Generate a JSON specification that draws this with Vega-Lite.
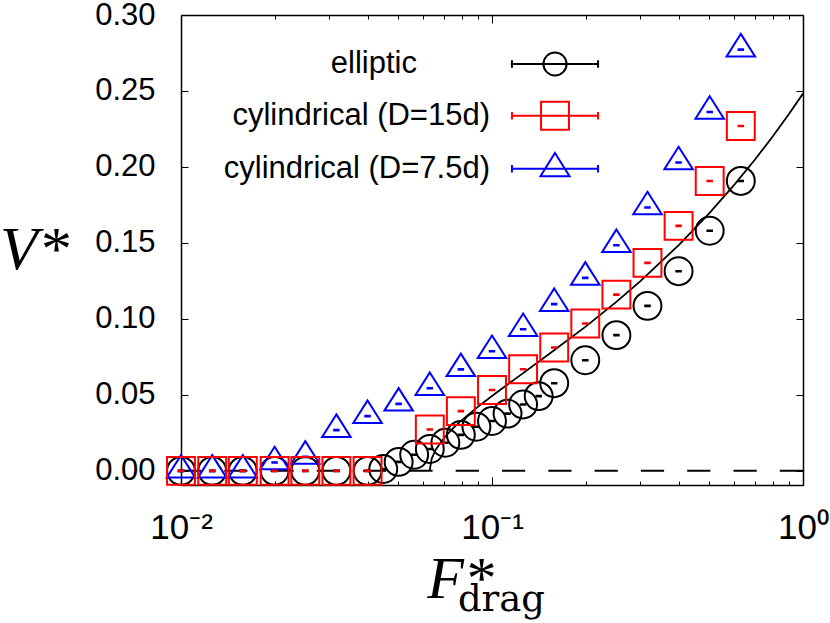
{
  "$schema": "https://vega.github.io/schema/vega-lite/v6.json",
  "width": 622,
  "height": 470,
  "autosize": {"type": "none"},
  "padding": {"left": 181, "top": 15, "right": 27, "bottom": 138},
  "background": "#ffffff",
  "config": {
    "view": {"stroke": null},
    "font": "Liberation Sans",
    "axis": {
      "grid": false,
      "domain": true,
      "domainColor": "#000000",
      "domainWidth": 1.5,
      "tickColor": "#000000",
      "tickWidth": 1,
      "labelColor": "#000000",
      "titleColor": "#000000",
      "labelFlush": false,
      "labelOverlap": false,
      "labelBound": false,
      "zindex": 1
    },
    "legend": {
      "orient": "none", "title": null, "padding": 0,
      "labelFont": "Liberation Sans", "labelFontSize": 31, "labelColor": "#000000",
      "labelAlign": "right", "labelBaseline": "middle", "labelLimit": 600,
      "symbolSize": 900, "symbolStrokeWidth": 2, "rowPadding": 15
    }
  },
  "datasets": {
    "pts": [
      {"F": 0.01, "V": 0, "series": "elliptic"},
      {"F": 0.0126, "V": 0, "series": "elliptic"},
      {"F": 0.0158, "V": 0, "series": "elliptic"},
      {"F": 0.02, "V": 0, "series": "elliptic"},
      {"F": 0.0251, "V": 0, "series": "elliptic"},
      {"F": 0.0316, "V": 0, "series": "elliptic"},
      {"F": 0.0398, "V": 0, "series": "elliptic"},
      {"F": 0.0447, "V": 0.0012, "series": "elliptic"},
      {"F": 0.0501, "V": 0.0059, "series": "elliptic"},
      {"F": 0.0562, "V": 0.0106, "series": "elliptic"},
      {"F": 0.0631, "V": 0.0144, "series": "elliptic"},
      {"F": 0.0708, "V": 0.0185, "series": "elliptic"},
      {"F": 0.0794, "V": 0.0237, "series": "elliptic"},
      {"F": 0.0891, "V": 0.029, "series": "elliptic"},
      {"F": 0.1, "V": 0.0328, "series": "elliptic"},
      {"F": 0.1122, "V": 0.0377, "series": "elliptic"},
      {"F": 0.1259, "V": 0.0437, "series": "elliptic"},
      {"F": 0.1413, "V": 0.0492, "series": "elliptic"},
      {"F": 0.1585, "V": 0.0577, "series": "elliptic"},
      {"F": 0.1995, "V": 0.0728, "series": "elliptic"},
      {"F": 0.2512, "V": 0.0893, "series": "elliptic"},
      {"F": 0.3162, "V": 0.1086, "series": "elliptic"},
      {"F": 0.3981, "V": 0.1314, "series": "elliptic"},
      {"F": 0.5012, "V": 0.158, "series": "elliptic"},
      {"F": 0.631, "V": 0.1908, "series": "elliptic"},
      {"F": 0.01, "V": 0, "series": "cylindrical (D=15d)"},
      {"F": 0.0126, "V": 0, "series": "cylindrical (D=15d)"},
      {"F": 0.0158, "V": 0, "series": "cylindrical (D=15d)"},
      {"F": 0.02, "V": 0, "series": "cylindrical (D=15d)"},
      {"F": 0.0251, "V": 0, "series": "cylindrical (D=15d)"},
      {"F": 0.0316, "V": 0, "series": "cylindrical (D=15d)"},
      {"F": 0.0398, "V": 0, "series": "cylindrical (D=15d)"},
      {"F": 0.0631, "V": 0.0272, "series": "cylindrical (D=15d)"},
      {"F": 0.0794, "V": 0.0393, "series": "cylindrical (D=15d)"},
      {"F": 0.1, "V": 0.0532, "series": "cylindrical (D=15d)"},
      {"F": 0.1259, "V": 0.0669, "series": "cylindrical (D=15d)"},
      {"F": 0.1585, "V": 0.0812, "series": "cylindrical (D=15d)"},
      {"F": 0.1995, "V": 0.097, "series": "cylindrical (D=15d)"},
      {"F": 0.2512, "V": 0.116, "series": "cylindrical (D=15d)"},
      {"F": 0.3162, "V": 0.1369, "series": "cylindrical (D=15d)"},
      {"F": 0.3981, "V": 0.1612, "series": "cylindrical (D=15d)"},
      {"F": 0.5012, "V": 0.1908, "series": "cylindrical (D=15d)"},
      {"F": 0.631, "V": 0.227, "series": "cylindrical (D=15d)"},
      {"F": 0.01, "V": 0, "series": "cylindrical (D=7.5d)"},
      {"F": 0.0126, "V": 0, "series": "cylindrical (D=7.5d)"},
      {"F": 0.0158, "V": 0, "series": "cylindrical (D=7.5d)"},
      {"F": 0.02, "V": 0.0055, "series": "cylindrical (D=7.5d)"},
      {"F": 0.0251, "V": 0.0092, "series": "cylindrical (D=7.5d)"},
      {"F": 0.0316, "V": 0.0268, "series": "cylindrical (D=7.5d)"},
      {"F": 0.0398, "V": 0.036, "series": "cylindrical (D=7.5d)"},
      {"F": 0.0501, "V": 0.0441, "series": "cylindrical (D=7.5d)"},
      {"F": 0.0631, "V": 0.0544, "series": "cylindrical (D=7.5d)"},
      {"F": 0.0794, "V": 0.0668, "series": "cylindrical (D=7.5d)"},
      {"F": 0.1, "V": 0.0787, "series": "cylindrical (D=7.5d)"},
      {"F": 0.1259, "V": 0.0932, "series": "cylindrical (D=7.5d)"},
      {"F": 0.1585, "V": 0.1097, "series": "cylindrical (D=7.5d)"},
      {"F": 0.1995, "V": 0.127, "series": "cylindrical (D=7.5d)"},
      {"F": 0.2512, "V": 0.1485, "series": "cylindrical (D=7.5d)"},
      {"F": 0.3162, "V": 0.1733, "series": "cylindrical (D=7.5d)"},
      {"F": 0.3981, "V": 0.2029, "series": "cylindrical (D=7.5d)"},
      {"F": 0.5012, "V": 0.2362, "series": "cylindrical (D=7.5d)"},
      {"F": 0.631, "V": 0.2772, "series": "cylindrical (D=7.5d)"}
    ],
    "fit": [
      {"F": 0.063, "V": 0},
      {"F": 0.064, "V": 0.0081},
      {"F": 0.066, "V": 0.0141},
      {"F": 0.07, "V": 0.0215},
      {"F": 0.075, "V": 0.0281},
      {"F": 0.08, "V": 0.0334},
      {"F": 0.09, "V": 0.0421},
      {"F": 0.1, "V": 0.0493},
      {"F": 0.12, "V": 0.0612},
      {"F": 0.15, "V": 0.0757},
      {"F": 0.2, "V": 0.0949},
      {"F": 0.25, "V": 0.1109},
      {"F": 0.3, "V": 0.1249},
      {"F": 0.4, "V": 0.1489},
      {"F": 0.5, "V": 0.1696},
      {"F": 0.6, "V": 0.188},
      {"F": 0.7, "V": 0.2047},
      {"F": 0.8, "V": 0.2202},
      {"F": 0.9, "V": 0.2347},
      {"F": 1.0, "V": 0.2483}
    ],
    "zero": [{"V": 0}]
  },
  "layer": [
    {
      "data": {"name": "zero"},
      "mark": {"type": "rule", "color": "#000000", "strokeWidth": 2, "strokeDash": [23.2, 23.1]},
      "encoding": {
        "y": {"field": "V", "type": "quantitative", "axis": null, "scale": {"domain": [-0.0093, 0.3], "nice": false, "zero": false}}
      }
    },
    {
      "data": {"name": "fit"},
      "mark": {"type": "line", "color": "#000000", "strokeWidth": 1.8, "clip": true},
      "encoding": {
        "x": {
          "field": "F", "type": "quantitative",
          "scale": {"type": "log", "domain": [0.01, 1], "nice": false},
          "axis": {
            "orient": "bottom",
            "values": [0.01,0.02,0.03,0.04,0.05,0.06,0.07,0.08,0.09,0.1,0.2,0.3,0.4,0.5,0.6,0.7,0.8,0.9,1],
            "tickSize": {"condition": {"test": "datum.value === 0.01 || datum.value === 0.1 || datum.value === 1", "value": -8}, "value": -4},
            "labelExpr": "datum.value === 0.01 ? '10⁻²' : datum.value === 0.1 ? '10⁻¹' : datum.value === 1 ? '10⁰' : ''",
            "labelFont": "Liberation Sans",
            "labelFontSize": 35,
            "labelBaseline": "alphabetic",
            "labelPadding": 61,
            "title": "F*",
            "titleFont": "Liberation Serif",
            "titleFontStyle": "italic",
            "titleFontWeight": "normal",
            "titleFontSize": 60,
            "titleAngle": 0,
            "titleAlign": "center",
            "titleBaseline": "alphabetic",
            "titleX": 279,
            "titleY": 112
          }
        },
        "y": {
          "field": "V", "type": "quantitative",
          "scale": {"domain": [-0.0093, 0.3], "nice": false, "zero": false},
          "axis": {
            "orient": "left",
            "values": [0, 0.05, 0.1, 0.15, 0.2, 0.25, 0.3],
            "format": ".2f",
            "tickSize": -7,
            "labelFont": "Liberation Sans",
            "labelFontSize": 31,
            "labelPadding": 33,
            "title": "V*",
            "titleFont": "Liberation Serif",
            "titleFontStyle": "italic",
            "titleFontWeight": "normal",
            "titleFontSize": 62,
            "titleAngle": 0,
            "titleAlign": "center",
            "titleBaseline": "alphabetic",
            "titleX": -147,
            "titleY": 253
          }
        }
      }
    },
    {
      "data": {"name": "pts"},
      "mark": {"type": "point", "filled": false, "strokeWidth": 2, "size": 900, "opacity": 1},
      "encoding": {
        "x": {
          "field": "F", "type": "quantitative",
          "scale": {"type": "log", "domain": [0.01, 1], "nice": false},
          "axis": {
            "orient": "top",
            "values": [0.01,0.02,0.03,0.04,0.05,0.06,0.07,0.08,0.09,0.1,0.2,0.3,0.4,0.5,0.6,0.7,0.8,0.9,1],
            "tickSize": {"condition": {"test": "datum.value === 0.01 || datum.value === 0.1 || datum.value === 1", "value": -8}, "value": -4},
            "labels": false,
            "title": "drag",
            "titleFont": "DejaVu Serif",
            "titleFontStyle": "normal",
            "titleFontWeight": "normal",
            "titleFontSize": 37,
            "titleAngle": 0,
            "titleAlign": "center",
            "titleBaseline": "alphabetic",
            "titleX": 320,
            "titleY": 595
          }
        },
        "y": {
          "field": "V", "type": "quantitative",
          "scale": {"domain": [-0.0093, 0.3], "nice": false, "zero": false},
          "axis": {
            "orient": "right",
            "values": [0, 0.05, 0.1, 0.15, 0.2, 0.25, 0.3],
            "tickSize": -7,
            "labels": false,
            "title": null
          }
        },
        "shape": {
          "field": "series", "type": "nominal",
          "scale": {
            "domain": ["elliptic", "cylindrical (D=15d)", "cylindrical (D=7.5d)"],
            "range": [
              "M0.93,0A0.93,0.93,0,1,1,-0.93,0A0.93,0.93,0,1,1,0.93,0ZM-0.15,-0.02H0.15V0.02H-0.15Z",
              "M-0.93,-0.93H0.93V0.93H-0.93ZM-0.15,-0.02H0.15V0.02H-0.15Z",
              "M0,-1.05L0.95,0.45H-0.95ZM-0.15,-0.02H0.15V0.02H-0.15Z"
            ]
          },
          "legend": null
        },
        "color": {
          "field": "series", "type": "nominal",
          "scale": {
            "domain": ["elliptic", "cylindrical (D=15d)", "cylindrical (D=7.5d)"],
            "range": ["#000000", "#ff0000", "#0000ff"]
          },
          "legend": null
        },
        "order": {"field": "series", "sort": "descending"}
      }
    },
    {
      "data": {"name": "pts"},
      "transform": [{"filter": "false"}],
      "mark": {"type": "point", "filled": false, "strokeWidth": 2, "size": 900, "opacity": 1},
      "encoding": {
        "shape": {
          "field": "series", "type": "nominal",
          "scale": {
            "domain": ["elliptic"],
            "range": ["M-2.87,0H2.87M-2.87,-0.25V0.25M2.87,-0.25V0.25M0.77,0A0.77,0.77,0,1,1,-0.77,0A0.77,0.77,0,1,1,0.77,0Z"]
          },
          "legend": {"legendX": 358, "legendY": 33, "labelOffset": -154}
        },
        "color": {
          "field": "series", "type": "nominal",
          "scale": {"domain": ["elliptic"], "range": ["#000000"]},
          "legend": {"legendX": 358, "legendY": 33, "labelOffset": -154}
        }
      }
    },
    {
      "data": {"name": "pts"},
      "transform": [{"filter": "false"}],
      "mark": {"type": "point", "filled": false, "strokeWidth": 2, "size": 900, "opacity": 1},
      "encoding": {
        "shape": {
          "field": "series", "type": "nominal",
          "scale": {
            "domain": ["cylindrical (D=15d)", "cylindrical (D=7.5d)"],
            "range": [
              "M-2.87,0H2.87M-2.87,-0.25V0.25M2.87,-0.25V0.25M-0.93,-0.93H0.93V0.93H-0.93Z",
              "M-2.87,0H2.87M-2.87,-0.25V0.25M2.87,-0.25V0.25M0,-1.05L0.97,0.5H-0.97Z"
            ]
          },
          "legend": {"legendX": 358, "legendY": 84.7, "labelOffset": -81}
        },
        "color": {
          "field": "series", "type": "nominal",
          "scale": {"domain": ["cylindrical (D=15d)", "cylindrical (D=7.5d)"], "range": ["#ff0000", "#0000ff"]},
          "legend": {"legendX": 358, "legendY": 84.7, "labelOffset": -81}
        }
      }
    }
  ],
  "resolve": {
    "axis": {"x": "independent", "y": "independent"},
    "scale": {"shape": "independent", "color": "independent"}
  }
}
